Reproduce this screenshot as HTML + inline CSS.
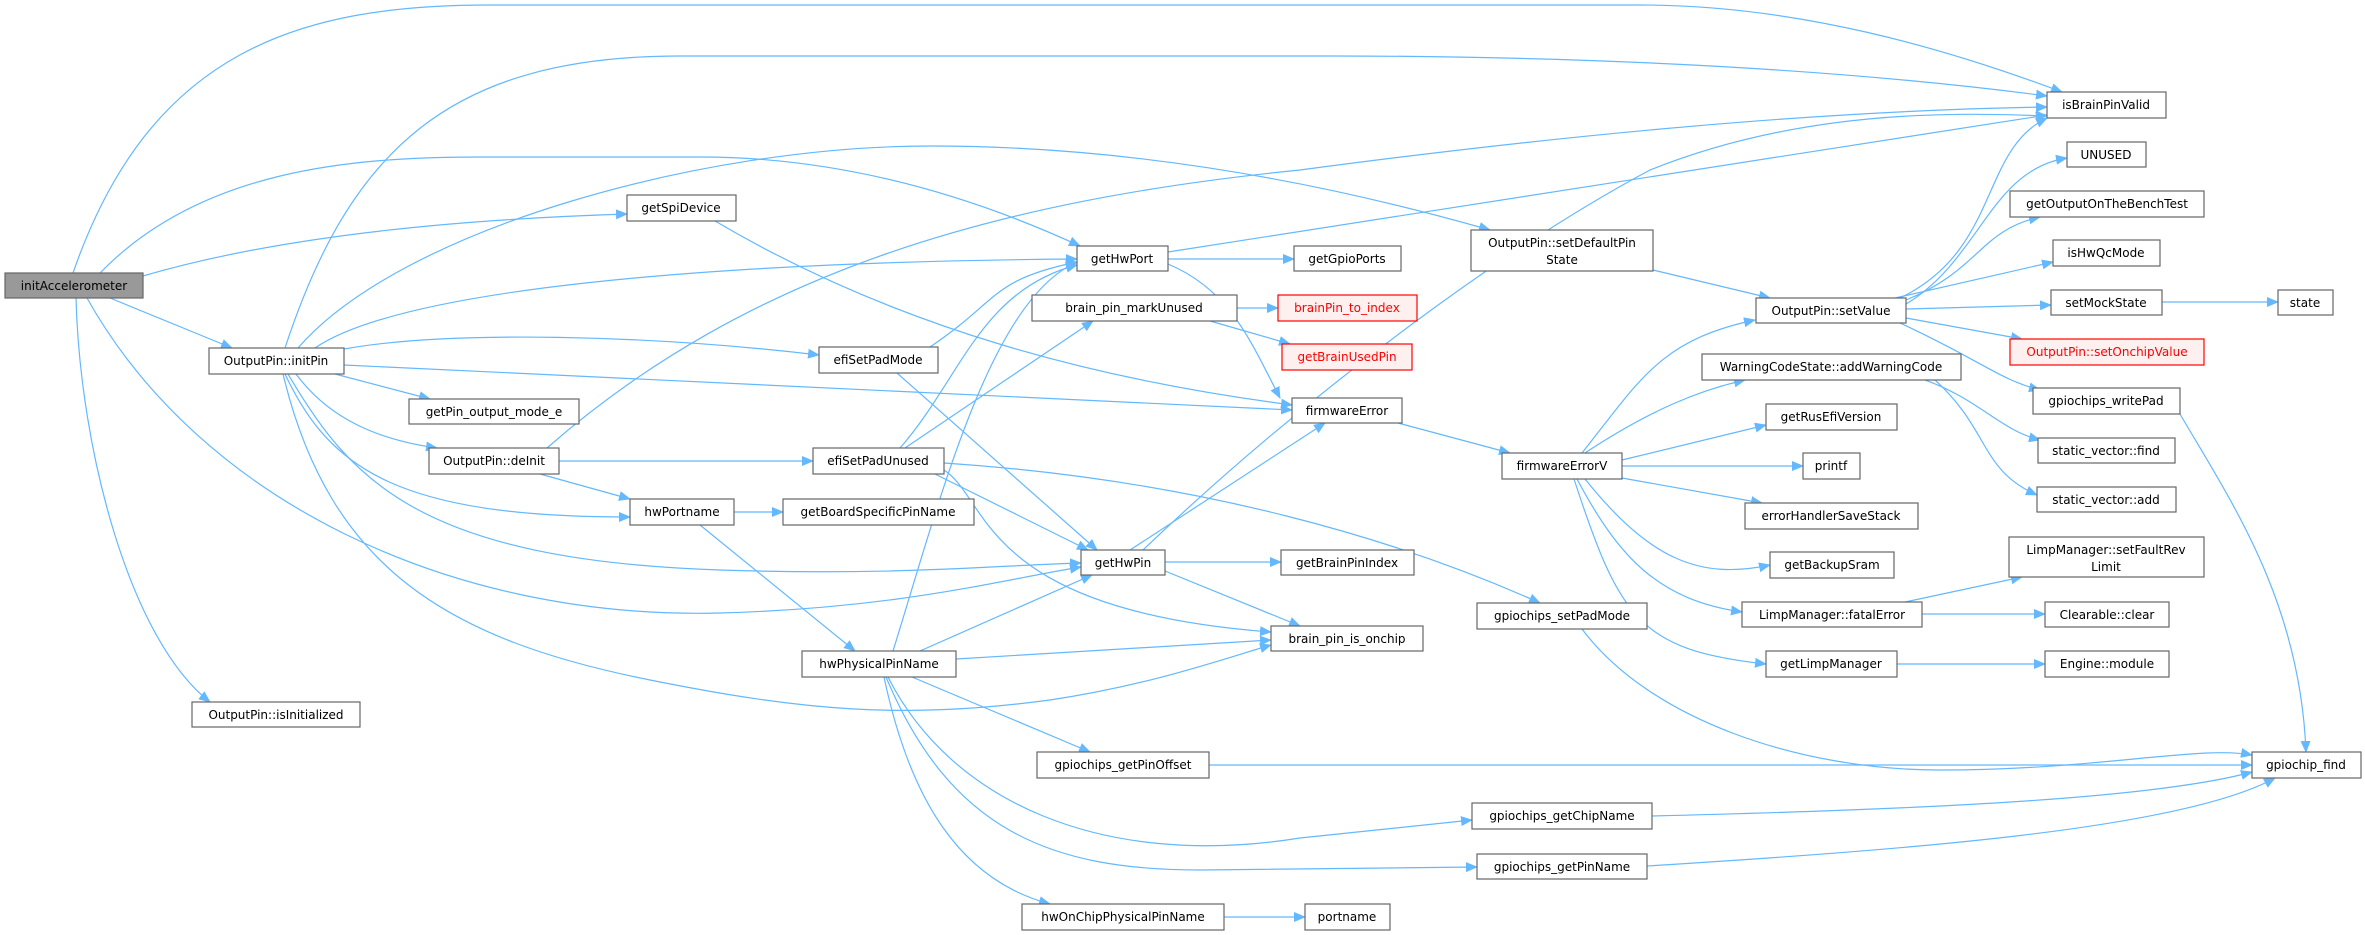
<!DOCTYPE html>
<html><head><meta charset="utf-8"><style>
html,body{margin:0;padding:0;background:#fff;}
svg{display:block;}
text{font-family:"DejaVu Sans","Liberation Sans",sans-serif;font-size:12px;fill:#000;}
</style></head><body>
<svg width="2365" height="935" viewBox="0 0 2365 935" xmlns="http://www.w3.org/2000/svg">
<defs>
<marker id="a" markerWidth="12" markerHeight="10" refX="11" refY="5" orient="auto" markerUnits="userSpaceOnUse">
<path d="M0,0 L12,5 L0,10 z" fill="#63b8ff"/>
</marker>
</defs>
<g fill="none" stroke="#63b8ff" stroke-width="1.2" marker-end="url(#a)">
<path d="M73,273 C150,50 300,5 490,5 L1640,5 C1800,5 1950,50 2062,92"/>
<path d="M100,273 C200,170 350,157 480,157 L700,157 C850,157 980,200 1080,246"/>
<path d="M143,276 C300,230 500,218 627,214"/>
<path d="M110,298 L232,348"/>
<path d="M87,298 C200,500 450,620 720,613 C900,608 1000,580 1081,567"/>
<path d="M76,298 C80,450 130,640 210,702"/>
<path d="M285,348 C350,150 450,56 680,56 L1330,56 C1600,56 1850,70 2047,96"/>
<path d="M315,348 C400,290 700,262 1077,259"/>
<path d="M344,349 C450,330 650,335 819,355"/>
<path d="M344,365 L1292,410"/>
<path d="M335,374 L430,399"/>
<path d="M296,374 C330,420 380,440 437,448"/>
<path d="M285,374 C330,470 400,517 630,517"/>
<path d="M288,374 C350,480 420,560 720,570 C900,576 1000,565 1081,563"/>
<path d="M283,374 C330,570 450,640 650,680 C800,710 900,720 1050,700 C1150,685 1220,660 1271,645"/>
<path d="M298,348 C400,230 700,146 930,146 C1150,146 1350,190 1490,230"/>
<path d="M547,448 C750,270 1000,200 1300,170 C1600,130 1850,110 2047,107"/>
<path d="M715,221 C900,330 1100,380 1292,405"/>
<path d="M1168,252 L2047,115"/>
<path d="M1168,259 L1294,259"/>
<path d="M1168,264 C1230,290 1250,340 1280,398"/>
<path d="M1237,308 L1278,308"/>
<path d="M1210,321 L1290,344"/>
<path d="M930,347 C1000,300 990,280 1077,262"/>
<path d="M897,373 L1097,550"/>
<path d="M900,448 C960,380 980,290 1077,265"/>
<path d="M905,448 L1093,321"/>
<path d="M935,474 L1088,550"/>
<path d="M944,463 C1200,480 1400,540 1540,603"/>
<path d="M944,470 C990,500 980,610 1271,632"/>
<path d="M559,461 L813,461"/>
<path d="M540,474 L630,499"/>
<path d="M734,512 L783,512"/>
<path d="M700,525 L855,651"/>
<path d="M1143,550 C1300,400 1500,250 1650,170 C1800,110 1950,112 2047,116"/>
<path d="M1130,550 L1325,423"/>
<path d="M1165,562 L1281,562"/>
<path d="M1165,571 L1300,626"/>
<path d="M893,651 C940,500 990,300 1077,262"/>
<path d="M920,651 L1092,575"/>
<path d="M956,659 L1271,640"/>
<path d="M912,677 L1090,752"/>
<path d="M888,677 C950,800 1100,870 1300,838 L1472,820"/>
<path d="M886,677 C950,830 1050,870 1200,870 L1477,867"/>
<path d="M884,677 C910,800 960,880 1050,904"/>
<path d="M1224,917 L1305,917"/>
<path d="M1209,765 L2252,765"/>
<path d="M1652,816 C1900,810 2150,800 2252,772"/>
<path d="M1647,866 C1900,850 2180,830 2275,778"/>
<path d="M1582,629 C1650,720 1800,770 1940,770 C2100,770 2200,745 2252,755"/>
<path d="M2180,414 C2230,500 2300,600 2306,752"/>
<path d="M1653,270 L1770,298"/>
<path d="M1398,423 L1510,453"/>
<path d="M1582,453 C1640,380 1660,340 1755,320"/>
<path d="M1585,453 C1650,410 1700,390 1745,380"/>
<path d="M1622,460 L1766,425"/>
<path d="M1622,466 L1803,466"/>
<path d="M1622,478 L1762,503"/>
<path d="M1585,479 C1650,560 1700,580 1770,565"/>
<path d="M1577,479 C1620,560 1660,600 1742,612"/>
<path d="M1574,479 C1620,620 1640,650 1766,664"/>
<path d="M1905,602 L2022,577"/>
<path d="M1922,614 L2045,614"/>
<path d="M1897,664 L2045,664"/>
<path d="M1925,380 C1980,400 2000,430 2040,440"/>
<path d="M1935,380 C1990,430 1980,470 2037,495"/>
<path d="M1900,298 C2000,250 1980,150 2047,118"/>
<path d="M1906,304 C1980,260 1990,170 2067,158"/>
<path d="M1906,300 C1980,270 1980,230 2040,217"/>
<path d="M1895,298 L2053,262"/>
<path d="M1906,309 L2051,305"/>
<path d="M2162,302 L2278,302"/>
<path d="M1906,318 L2022,339"/>
<path d="M1900,323 C1980,360 2000,380 2040,390"/>
</g>
<g stroke="#666" stroke-width="1.2" fill="#fff">
<rect x="5" y="273" width="138" height="25" fill="#999"/>
<rect x="627" y="195" width="109" height="26"/>
<rect x="1077" y="246" width="91" height="25"/>
<rect x="1032" y="295" width="205" height="26"/>
<rect x="209" y="348" width="135" height="26"/>
<rect x="819" y="347" width="119" height="26"/>
<rect x="409" y="399" width="170" height="25"/>
<rect x="429" y="448" width="130" height="26"/>
<rect x="813" y="448" width="131" height="26"/>
<rect x="2047" y="92" width="119" height="26"/>
<rect x="2067" y="142" width="79" height="25"/>
<rect x="2010" y="191" width="194" height="26"/>
<rect x="2053" y="240" width="107" height="26"/>
<rect x="2051" y="290" width="111" height="25"/>
<rect x="2278" y="290" width="55" height="25"/>
<rect x="2010" y="339" width="194" height="26" fill="#fff0f0" stroke="#f00"/>
<rect x="2033" y="388" width="147" height="26"/>
<rect x="2038" y="438" width="137" height="25"/>
<rect x="1471" y="230" width="182" height="41"/>
<rect x="1294" y="246" width="107" height="25"/>
<rect x="1278" y="295" width="139" height="26" fill="#fff0f0" stroke="#f00"/>
<rect x="1282" y="344" width="130" height="26" fill="#fff0f0" stroke="#f00"/>
<rect x="1292" y="398" width="110" height="25"/>
<rect x="1756" y="298" width="150" height="25"/>
<rect x="1702" y="354" width="259" height="26"/>
<rect x="1766" y="404" width="131" height="26"/>
<rect x="1502" y="453" width="120" height="26"/>
<rect x="1803" y="453" width="57" height="26"/>
<rect x="2037" y="487" width="139" height="25"/>
<rect x="1745" y="503" width="173" height="26"/>
<rect x="2009" y="537" width="195" height="40"/>
<rect x="1770" y="552" width="124" height="26"/>
<rect x="1281" y="550" width="133" height="25"/>
<rect x="1477" y="603" width="170" height="26"/>
<rect x="1742" y="602" width="180" height="25"/>
<rect x="2045" y="602" width="124" height="25"/>
<rect x="1271" y="626" width="152" height="25"/>
<rect x="1766" y="651" width="131" height="26"/>
<rect x="2045" y="651" width="124" height="26"/>
<rect x="2252" y="752" width="109" height="26"/>
<rect x="1472" y="803" width="180" height="26"/>
<rect x="1477" y="854" width="170" height="25"/>
<rect x="1305" y="904" width="85" height="26"/>
<rect x="630" y="499" width="104" height="26"/>
<rect x="783" y="499" width="191" height="26"/>
<rect x="1081" y="550" width="84" height="25"/>
<rect x="802" y="651" width="154" height="26"/>
<rect x="192" y="702" width="168" height="25"/>
<rect x="1037" y="752" width="172" height="26"/>
<rect x="1022" y="904" width="202" height="26"/>
</g>
<g text-anchor="middle">
<text x="74" y="290">initAccelerometer</text>
<text x="681" y="212">getSpiDevice</text>
<text x="1122" y="263">getHwPort</text>
<text x="1134" y="312">brain_pin_markUnused</text>
<text x="276" y="365">OutputPin::initPin</text>
<text x="878" y="364">efiSetPadMode</text>
<text x="494" y="416">getPin_output_mode_e</text>
<text x="494" y="465">OutputPin::deInit</text>
<text x="878" y="465">efiSetPadUnused</text>
<text x="2106" y="109">isBrainPinValid</text>
<text x="2106" y="159">UNUSED</text>
<text x="2107" y="208">getOutputOnTheBenchTest</text>
<text x="2106" y="257">isHwQcMode</text>
<text x="2106" y="307">setMockState</text>
<text x="2305" y="307">state</text>
<text x="2107" y="356" style="fill:#f00">OutputPin::setOnchipValue</text>
<text x="2106" y="405">gpiochips_writePad</text>
<text x="2106" y="455">static_vector::find</text>
<text x="1562" y="247">OutputPin::setDefaultPin</text>
<text x="1562" y="264">State</text>
<text x="1347" y="263">getGpioPorts</text>
<text x="1347" y="312" style="fill:#f00">brainPin_to_index</text>
<text x="1347" y="361" style="fill:#f00">getBrainUsedPin</text>
<text x="1347" y="415">firmwareError</text>
<text x="1831" y="315">OutputPin::setValue</text>
<text x="1831" y="371">WarningCodeState::addWarningCode</text>
<text x="1831" y="421">getRusEfiVersion</text>
<text x="1562" y="470">firmwareErrorV</text>
<text x="1831" y="470">printf</text>
<text x="2106" y="504">static_vector::add</text>
<text x="1831" y="520">errorHandlerSaveStack</text>
<text x="2106" y="554">LimpManager::setFaultRev</text>
<text x="2106" y="571">Limit</text>
<text x="1832" y="569">getBackupSram</text>
<text x="1347" y="567">getBrainPinIndex</text>
<text x="1562" y="620">gpiochips_setPadMode</text>
<text x="1832" y="619">LimpManager::fatalError</text>
<text x="2107" y="619">Clearable::clear</text>
<text x="1347" y="643">brain_pin_is_onchip</text>
<text x="1831" y="668">getLimpManager</text>
<text x="2107" y="668">Engine::module</text>
<text x="2306" y="769">gpiochip_find</text>
<text x="1562" y="820">gpiochips_getChipName</text>
<text x="1562" y="871">gpiochips_getPinName</text>
<text x="1347" y="921">portname</text>
<text x="682" y="516">hwPortname</text>
<text x="878" y="516">getBoardSpecificPinName</text>
<text x="1123" y="567">getHwPin</text>
<text x="879" y="668">hwPhysicalPinName</text>
<text x="276" y="719">OutputPin::isInitialized</text>
<text x="1123" y="769">gpiochips_getPinOffset</text>
<text x="1123" y="921">hwOnChipPhysicalPinName</text>
</g>
</svg>
</body></html>
